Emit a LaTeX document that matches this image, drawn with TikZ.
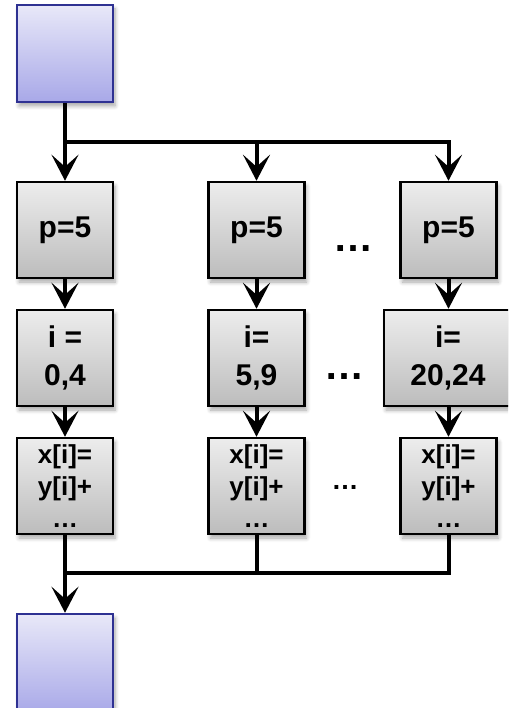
\documentclass[tikz,border=0pt]{standalone}
\usepackage{fontspec}
\setmainfont{Liberation Sans}
\usetikzlibrary{arrows.meta,shadows.blur}

\definecolor{bluetop}{HTML}{E8E8F8}
\definecolor{bluebot}{HTML}{A8A8E8}
\definecolor{blueedge}{HTML}{2E3192}
\definecolor{graytop}{HTML}{EDEDED}
\definecolor{graybot}{HTML}{BCBCBC}

\begin{document}
\begin{tikzpicture}[x=1pt,y=-1pt,
  shadowed/.style={blur shadow={shadow xshift=2pt,shadow yshift=-4pt,
      shadow blur steps=6,shadow blur radius=4pt,shadow opacity=35}},
  bluebox/.style={shadowed,draw=blueedge,line width=2.5pt,
      top color=bluetop,bottom color=bluebot,
      minimum width=96pt,minimum height=97pt,inner sep=0pt},
  graybox/.style={shadowed,draw=black,line width=2.5pt,
      top color=graytop,bottom color=graybot,
      minimum width=96pt,minimum height=96pt,inner sep=0pt,align=center,
      font=\fontsize{30}{38}\selectfont\bfseries},
  codebox/.style={graybox,font=\fontsize{26}{32}\selectfont\bfseries},
  gap/.style={inner sep=0pt,font=\fontsize{40}{40}\selectfont\bfseries},
  smallgap/.style={inner sep=0pt,font=\fontsize{27}{27}\selectfont\bfseries},
  link/.style={line width=4pt},
  arrow/.style={link,-{Stealth[length=26pt,width=27pt,inset=12pt]}}
]
\clip (0,0) rectangle (508,708);

% source and sink
\node[bluebox] (src) at (65,53.5) {};
\node[bluebox,minimum height=100pt] (sink) at (65,664) {};

% three parallel columns
\node[graybox] (p1) at (65,230) {p=5};
\node[graybox] (p2) at (256.5,230) {p=5};
\node[graybox] (p3) at (448.5,230) {p=5};

\node[graybox] (i1) at (65,358) {i =\\0,4};
\node[graybox] (i2) at (256.5,358) {i=\\5,9};
\node[graybox,minimum width=128pt] (i3) at (448,358) {i=\\20,24};

\node[codebox] (x1) at (65,486) {x[i]=\\y[i]+\\…};
\node[codebox] (x2) at (256.5,486) {x[i]=\\y[i]+\\…};
\node[codebox] (x3) at (448.5,486) {x[i]=\\y[i]+\\…};

% elided columns
\node[gap] (d1) at (353,249) {…};
\node[gap] (d2) at (344.5,377) {…};
\node[smallgap] (d3) at (345,487) {…};

% fork
\coordinate (fork) at (65,142);
\draw[arrow] (src.south) -- (p1.north);
\draw[arrow] (fork) -| (p2.north);
\draw[arrow] (fork) -| (p3.north);

% column edges
\draw[arrow] (p1.south) -- (i1.north);
\draw[arrow] (p2.south) -- (i2.north);
\draw[arrow] (p3.south) -- (p3.south |- i3.north);
\draw[arrow] (i1.south) -- (x1.north);
\draw[arrow] (i2.south) -- (x2.north);
\draw[arrow] (x3.north |- i3.south) -- (x3.north);

% join
\coordinate (join) at (65,573);
\draw[link] (x2.south) |- (join);
\draw[link] (x3.south) |- (join);
\draw[arrow] (x1.south) -- (sink.north);
\end{tikzpicture}
\end{document}
